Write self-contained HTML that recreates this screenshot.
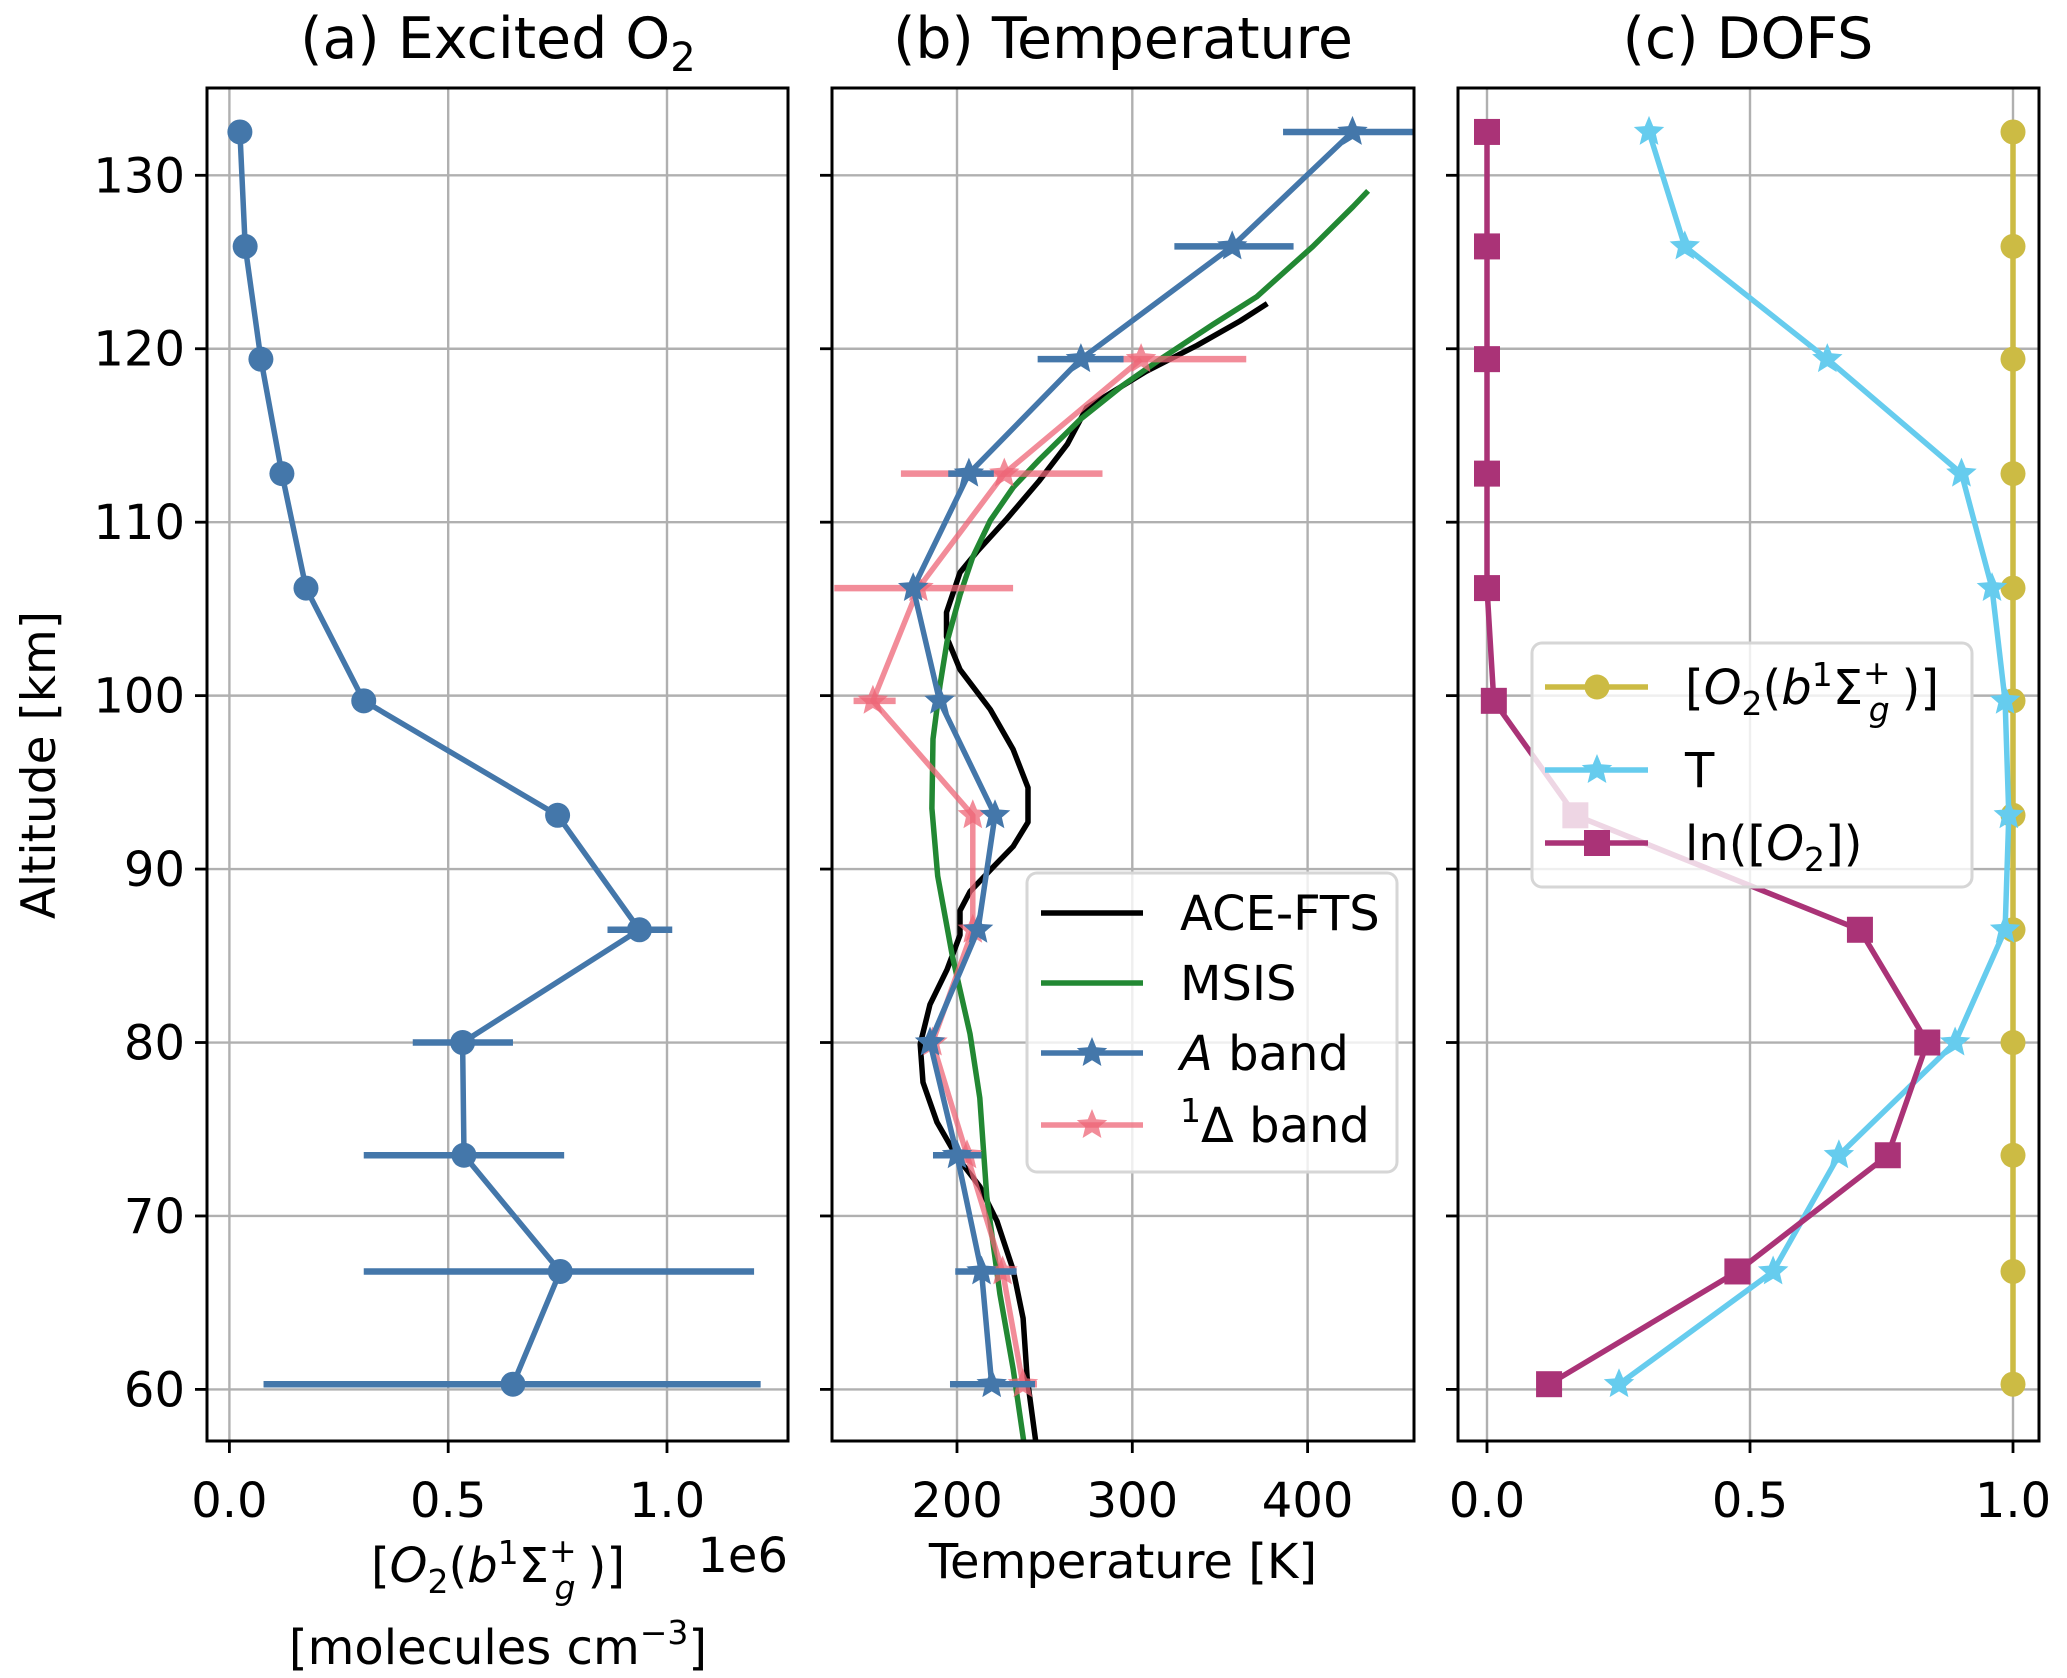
<!DOCTYPE html>
<html><head><meta charset="utf-8">
<style>
html,body{margin:0;padding:0;background:#fff;}
svg{display:block;font-family:"DejaVu Sans","Liberation Sans",sans-serif;}
</style></head>
<body>
<svg id="fig" width="2067" height="1678" viewBox="0 0 2067 1678" xmlns="http://www.w3.org/2000/svg">
<g id="grid"></g>
<g id="plots"></g>
<g id="frames"></g>
<g id="labels"></g>
</svg>
<script>
// ---- data ----
const altitudes = [132.5, 125.9, 119.4, 112.8, 106.2, 99.7, 93.1, 86.5, 80.0, 73.5, 66.8, 60.3];
const o2Values = [0.024, 0.036, 0.072, 0.12, 0.175, 0.307, 0.75, 0.937, 0.533, 0.536, 0.756, 0.648];
const o2ErrLow = [0.024, 0.036, 0.072, 0.12, 0.175, 0.307, 0.75, 0.864, 0.419, 0.307, 0.307, 0.078];
const o2ErrHigh = [0.024, 0.036, 0.072, 0.12, 0.175, 0.307, 0.75, 1.012, 0.648, 0.765, 1.199, 1.214];
const aBandT = [425.6, 357, 270.7, 206.8, 175, 190, 221.7, 212, 184.6, 200, 214, 219.8];
const aBandLow = [386, 324, 246, 195, 175, 190, 221.7, 212, 184.6, 186.3, 199, 196];
const aBandHigh = [470, 392, 295, 221, 175, 190, 221.7, 212, 184.6, 214, 234, 244.5];
const deltaAlt = [119.4, 112.8, 106.2, 99.7, 93.1, 86.5, 80.0, 73.5, 66.8, 60.3];
const deltaT = [305, 227, 178, 152, 209, 209, 186, 205.7, 226, 237.6];
const deltaLow = [293, 168, 130, 141, 209, 209, 186, 205.7, 221.6, 230];
const deltaHigh = [365, 283, 232, 165, 209, 209, 186, 205.7, 234, 245.6];
const aceAlt = [122.6, 121.6, 120.2, 118.7, 116.6, 114.5, 112.4, 110.2, 108.3, 107.1, 104.8, 103.4, 101.5, 99.2, 96.9, 94.7, 92.7, 91.3, 90.1, 88.7, 87.6, 86.2, 84.2, 82.2, 79.9, 77.7, 75.4, 73.4, 71.7, 69.7, 66.9, 64.1, 60.7, 56.5];
const aceT = [377, 361.5, 337, 308, 274, 263, 247, 228.5, 211.4, 201.7, 194, 194, 201.7, 219, 232, 240.5, 240.5, 232, 220.5, 207.4, 201.7, 201.7, 194.3, 184.6, 179, 180.6, 188.6, 200, 213, 222.8, 232, 237.7, 240, 245.6];
const msisAlt = [129.1, 128.2, 125.9, 123.0, 121.4, 119.5, 117.9, 115.9, 113.6, 112.0, 110.1, 108.0, 105.8, 103.1, 100.6, 97.5, 93.5, 89.6, 85.0, 80.5, 76.8, 71.1, 65.5, 61.2, 56.5];
const msisT = [434.5, 426, 403, 371, 346, 317.5, 294.7, 270, 247, 232, 219, 209, 201.7, 194.3, 190.3, 186.3, 185.7, 189, 197.3, 207.4, 213, 217, 224.5, 232, 238.8];
const dofsO2 = [1, 1, 1, 1, 1, 1, 1, 1, 1, 1, 1, 1];
const dofsT = [0.308, 0.376, 0.647, 0.902, 0.96, 0.985, 0.992, 0.985, 0.89, 0.669, 0.544, 0.251];
const dofsLn = [0, 0, 0, 0, 0, 0.013, 0.168, 0.709, 0.837, 0.762, 0.476, 0.118];
const yTicks = [60, 70, 80, 90, 100, 110, 120, 130];
const aTicks = [0, 0.5, 1.0];
const aTickLabels = ["0.0", "0.5", "1.0"];
const bTicks = [200, 300, 400];
const bTickLabels = ["200", "300", "400"];
const cTicks = [0, 0.5, 1.0];
const cTickLabels = ["0.0", "0.5", "1.0"];

// ---- layout ----
const NS = "http://www.w3.org/2000/svg";
const TOP = 88, BOT = 1441;
const LW = 5.5;
const panels = {
  a: {l: 207, r: 788, x0: 0, px0: 229.4, x1: 1, px1: 667.0},
  b: {l: 832, r: 1414, x0: 200, px0: 957, x1: 400, px1: 1307.6},
  c: {l: 1458, r: 2039, x0: 0, px0: 1487, x1: 1, px1: 2013}
};
function Y(alt){ return 1389.4 + (alt - 60) * (175.3 - 1389.4) / 70; }
function X(p, v){ const P = panels[p]; return P.px0 + (v - P.x0) * (P.px1 - P.px0) / (P.x1 - P.x0); }
function el(tag, attrs, parent){ const e = document.createElementNS(NS, tag); for (const k in attrs) e.setAttribute(k, attrs[k]); if (parent) parent.appendChild(e); return e; }
const grid = document.getElementById('grid'), plots = document.getElementById('plots'), frames = document.getElementById('frames'), labels = document.getElementById('labels');
const defs = el('defs', {}, document.getElementById('fig'));
['a','b','c'].forEach(p => { const cp = el('clipPath', {id: 'clip' + p}, defs); el('rect', {x: panels[p].l, y: TOP, width: panels[p].r - panels[p].l, height: BOT - TOP}, cp); });

function starPath(cx, cy, R){ let d = ''; const r = R * 0.45; for (let i = 0; i < 10; i++){ const a = -Math.PI/2 + i * Math.PI/5; const rr = i % 2 ? r : R; d += (i ? 'L' : 'M') + (cx + rr*Math.cos(a)).toFixed(1) + ',' + (cy + rr*Math.sin(a)).toFixed(1); } return d + 'Z'; }

// grid & ticks
['a','b','c'].forEach(p => {
  const P = panels[p];
  const xt = p === 'a' ? aTicks : p === 'b' ? bTicks : cTicks;
  const xl = p === 'a' ? aTickLabels : p === 'b' ? bTickLabels : cTickLabels;
  yTicks.forEach(t => {
    const g = el('line', {x1: P.l, x2: P.r, y1: Y(t), y2: Y(t), stroke: '#b0b0b0', 'stroke-width': 2.4}, grid);
    
    
    const tk = el('line', {x1: P.l - 12, x2: P.l, y1: Y(t), y2: Y(t), stroke: '#000', 'stroke-width': 2.8}, frames);
    
    
    if (p === 'a') {
      const tx = el('text', {x: P.l - 22, y: Y(t) + 17, 'text-anchor': 'end', 'font-size': 48}, labels);
      tx.textContent = t;
      
      
    }
  });
  xt.forEach((t, i) => {
    const g = el('line', {x1: X(p, t), x2: X(p, t), y1: TOP, y2: BOT, stroke: '#b0b0b0', 'stroke-width': 2.4}, grid);
    
    
    const tk = el('line', {x1: X(p, t), x2: X(p, t), y1: BOT, y2: BOT + 12, stroke: '#000', 'stroke-width': 2.8}, frames);
    
    
    const tx = el('text', {x: X(p, t), y: 1517, 'text-anchor': 'middle', 'font-size': 48}, labels);
    tx.textContent = xl[i];
    
    
  });
  const fr = el('rect', {x: P.l, y: TOP, width: P.r - P.l, height: BOT - TOP, fill: 'none', stroke: '#000', 'stroke-width': 3}, frames);
  
  
});

function line(p, xs, ys, color, w, name, opacity){
  const d = xs.map((v, i) => (i ? 'L' : 'M') + X(p, v).toFixed(1) + ',' + Y(ys[i]).toFixed(1)).join('');
  const e = el('path', {d: d, fill: 'none', stroke: color, 'stroke-width': w, 'stroke-linejoin': 'round', 'clip-path': 'url(#clip' + p + ')', opacity: opacity || 1}, plots);
  
  
}
function errbars(p, lo, hi, ys, color, name, opacity){
  lo.forEach((v, i) => { if (hi[i] - v < 0.001) return;
    const e = el('line', {x1: X(p, v), x2: X(p, hi[i]), y1: Y(ys[i]), y2: Y(ys[i]), stroke: color, 'stroke-width': 6.5, 'clip-path': 'url(#clip' + p + ')', opacity: opacity || 1}, plots);
    
    
  });
}
function markers(p, xs, ys, color, kind, name, opacity){
  xs.forEach((v, i) => {
    const cx = X(p, v), cy = Y(ys[i]); let e;
    if (kind === 'circle') e = el('circle', {cx: cx, cy: cy, r: 12.5, fill: color}, plots);
    else if (kind === 'star') e = el('path', {d: starPath(cx, cy, 16), fill: color}, plots);
    else e = el('rect', {x: cx - 13, y: cy - 13, width: 26, height: 26, fill: color}, plots);
    if (opacity) e.setAttribute('opacity', opacity);
    
    
  });
}

const BLUE = '#4477aa', PINK = '#ee6677', GREEN = '#228833', YEL = '#ccbb44', CYAN = '#66ccee', PURP = '#aa3377';
// panel a
errbars('a', o2ErrLow, o2ErrHigh, altitudes, BLUE, 'o2-error-bar');
line('a', o2Values, altitudes, BLUE, LW, 'o2-profile-line');
markers('a', o2Values, altitudes, BLUE, 'circle', 'o2-point');
// panel b
line('b', aceT, aceAlt, '#000', LW, 'ace-fts-line');
line('b', msisT, msisAlt, GREEN, LW, 'msis-line');
errbars('b', deltaLow, deltaHigh, deltaAlt, PINK, 'delta-band-error-bar', 0.75);
line('b', deltaT, deltaAlt, PINK, LW, 'delta-band-line', 0.75);
markers('b', deltaT, deltaAlt, PINK, 'star', 'delta-band-point', 0.75);
errbars('b', aBandLow, aBandHigh, altitudes, BLUE, 'a-band-error-bar');
line('b', aBandT, altitudes, BLUE, LW, 'a-band-line');
markers('b', aBandT, altitudes, BLUE, 'star', 'a-band-point');
// panel c
line('c', dofsO2, altitudes, YEL, LW, 'dofs-o2-line');
markers('c', dofsO2, altitudes, YEL, 'circle', 'dofs-o2-point');
line('c', dofsT, altitudes, CYAN, LW, 'dofs-t-line');
markers('c', dofsT, altitudes, CYAN, 'star', 'dofs-t-point');
line('c', dofsLn, altitudes, PURP, LW, 'dofs-ln-line');
markers('c', dofsLn, altitudes, PURP, 'square', 'dofs-ln-point');
</script>
<div style="position:absolute;left:0;top:0;width:2067px;height:1678px;pointer-events:none;">
<svg width="2067" height="1678" style="font-family:'DejaVu Sans','Liberation Sans',sans-serif;">
  <!-- titles -->
  <text x="498" y="58" text-anchor="middle" font-size="57">(a) Excited O<tspan font-size="40" dy="13">2</tspan></text>
  <text x="1123" y="58" text-anchor="middle" font-size="57">(b) Temperature</text>
  <text x="1748" y="58" text-anchor="middle" font-size="57">(c) DOFS</text>
  <!-- axis labels -->
  <text transform="translate(55,765) rotate(-90)" text-anchor="middle" font-size="47">Altitude [km]</text>
  <text x="1123" y="1578" text-anchor="middle" font-size="48">Temperature [K]</text>
  <text x="498" y="1582" text-anchor="middle" font-size="48">[<tspan font-style="italic">O</tspan><tspan font-size="33" dy="11">2</tspan><tspan dy="-11">(</tspan><tspan font-style="italic">b</tspan><tspan font-size="33" dy="-18">1</tspan><tspan dy="18">Σ</tspan><tspan font-size="33" dy="-20">+</tspan><tspan font-size="33" font-style="italic" dx="-22" dy="37">g</tspan><tspan dx="12" dy="-17">)]</tspan></text>
  <text x="498" y="1664" text-anchor="middle" font-size="48">[molecules cm<tspan font-size="33" dy="-20">−3</tspan><tspan dy="20">]</tspan></text>
  <text x="788" y="1572" text-anchor="end" font-size="48">1e6</text>
  <!-- legend b -->
  <g>
    <rect x="1027" y="873" width="370" height="299" rx="10" fill="#fff" fill-opacity="0.8" stroke="#d6d6d6" stroke-width="3"/>
    <line x1="1041" y1="913" x2="1143" y2="913" stroke="#000" stroke-width="5.5"/>
    <text x="1180" y="930" font-size="48">ACE-FTS</text>
    <line x1="1041" y1="983" x2="1143" y2="983" stroke="#228833" stroke-width="5.5"/>
    <text x="1180" y="1000" font-size="48">MSIS</text>
    <line x1="1041" y1="1053" x2="1143" y2="1053" stroke="#4477aa" stroke-width="5.5"/>
    <path d="M1092,1037 L1096.2,1047.2 L1107.2,1048.1 L1098.8,1055.3 L1101.4,1066 L1092,1060.3 L1082.6,1066 L1085.2,1055.3 L1076.8,1048.1 L1087.8,1047.2 Z" fill="#4477aa"/>
    <text x="1180" y="1070" font-size="48"><tspan font-style="italic">A</tspan> band</text>
    <line x1="1041" y1="1125" x2="1143" y2="1125" stroke="#ee6677" stroke-width="5.5" opacity="0.75"/>
    <path d="M1092,1109 L1096.2,1119.2 L1107.2,1120.1 L1098.8,1127.3 L1101.4,1138 L1092,1132.3 L1082.6,1138 L1085.2,1127.3 L1076.8,1120.1 L1087.8,1119.2 Z" fill="#ee6677" opacity="0.75"/>
    <text x="1180" y="1142" font-size="48"><tspan font-size="33" dy="-20">1</tspan><tspan dy="20">Δ band</tspan></text>
  </g>
  <!-- legend c -->
  <g>
    <rect x="1532" y="643" width="440" height="244" rx="10" fill="#fff" fill-opacity="0.8" stroke="#d6d6d6" stroke-width="3"/>
    <line x1="1545" y1="687" x2="1648" y2="687" stroke="#ccbb44" stroke-width="5.5"/>
    <circle cx="1597" cy="687" r="12.5" fill="#ccbb44"/>
    <text x="1685" y="704" font-size="48">[<tspan font-style="italic">O</tspan><tspan font-size="33" dy="11">2</tspan><tspan dy="-11">(</tspan><tspan font-style="italic">b</tspan><tspan font-size="33" dy="-18">1</tspan><tspan dy="18">Σ</tspan><tspan font-size="33" dy="-20">+</tspan><tspan font-size="33" font-style="italic" dx="-22" dy="37">g</tspan><tspan dx="12" dy="-17">)]</tspan></text>
    <line x1="1545" y1="770" x2="1648" y2="770" stroke="#66ccee" stroke-width="5.5"/>
    <path d="M1597,754 L1601.2,764.2 L1612.2,765.1 L1603.8,772.3 L1606.4,783 L1597,777.3 L1587.6,783 L1590.2,772.3 L1581.8,765.1 L1592.8,764.2 Z" fill="#66ccee"/>
    <text x="1685" y="787" font-size="48">T</text>
    <line x1="1545" y1="843" x2="1648" y2="843" stroke="#aa3377" stroke-width="5.5"/>
    <rect x="1584" y="830" width="26" height="26" fill="#aa3377"/>
    <text x="1685" y="860" font-size="48">ln([<tspan font-style="italic">O</tspan><tspan font-size="33" dy="11">2</tspan><tspan dy="-11">])</tspan></text>
  </g>
</svg>
</div>
</body></html>
